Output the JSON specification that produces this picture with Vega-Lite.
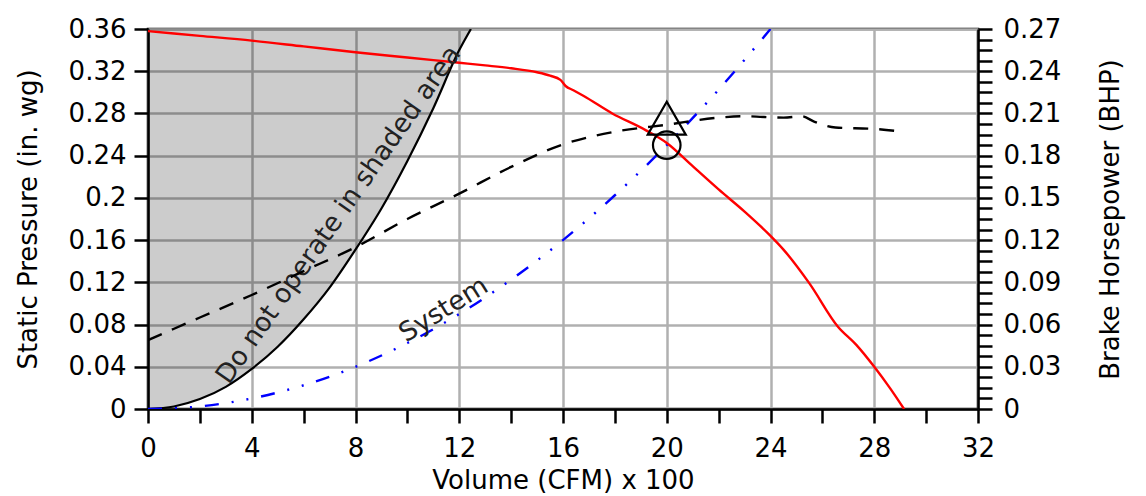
{
  "$schema": "https://vega.github.io/schema/vega-lite/v6.json",
  "width": 830,
  "height": 380,
  "autosize": {"type": "none"},
  "padding": {"left": 148, "top": 29, "right": 168, "bottom": 87},
  "background": "white",
  "config": {
    "font": "DejaVu Sans",
    "view": {"stroke": "black", "strokeWidth": 2.5},
    "axis": {
      "domainColor": "black", "domainWidth": 2.5,
      "tickColor": "black", "tickWidth": 2.5, "tickSize": 14,
      "labelColor": "black", "labelFontSize": 26, "labelPadding": 8,
      "labelOverlap": false, "labelFlush": false,
      "titleColor": "black", "titleFontSize": 26, "titleFontWeight": "normal",
      "gridColor": "#b0b0b0", "gridWidth": 2.5
    }
  },
  "datasets": {
    "fan": [
      {"cfm": 0, "p": 0.358}, {"cfm": 2, "p": 0.3535}, {"cfm": 4, "p": 0.349}, {"cfm": 6, "p": 0.3435},
      {"cfm": 8, "p": 0.338}, {"cfm": 10, "p": 0.333}, {"cfm": 12, "p": 0.328}, {"cfm": 13, "p": 0.3255},
      {"cfm": 14, "p": 0.3228}, {"cfm": 15, "p": 0.319}, {"cfm": 15.5, "p": 0.3158}, {"cfm": 15.9, "p": 0.3118},
      {"cfm": 16.1, "p": 0.306}, {"cfm": 16.4, "p": 0.302}, {"cfm": 16.8, "p": 0.2965}, {"cfm": 17.9, "p": 0.280},
      {"cfm": 19.2, "p": 0.264}, {"cfm": 20, "p": 0.252}, {"cfm": 21, "p": 0.230}, {"cfm": 22, "p": 0.208},
      {"cfm": 23, "p": 0.187}, {"cfm": 24, "p": 0.164}, {"cfm": 24.5, "p": 0.151}, {"cfm": 25.5, "p": 0.119},
      {"cfm": 26.6, "p": 0.078}, {"cfm": 27.3, "p": 0.061}, {"cfm": 28, "p": 0.040}, {"cfm": 28.6, "p": 0.020},
      {"cfm": 29.15, "p": 0}
    ],
    "system": [
      {"cfm": 0, "p": 0}, {"cfm": 2, "p": 0.0025}, {"cfm": 4, "p": 0.01}, {"cfm": 6, "p": 0.0225},
      {"cfm": 8, "p": 0.04}, {"cfm": 10, "p": 0.0625}, {"cfm": 12, "p": 0.09}, {"cfm": 14, "p": 0.1225},
      {"cfm": 16, "p": 0.16}, {"cfm": 18, "p": 0.2025}, {"cfm": 20, "p": 0.25}, {"cfm": 22, "p": 0.3025},
      {"cfm": 24, "p": 0.36}
    ],
    "limit": [
      {"cfm": 0, "p": 0}, {"cfm": 1, "p": 0.0024}, {"cfm": 2, "p": 0.0094}, {"cfm": 3, "p": 0.021},
      {"cfm": 4, "p": 0.038}, {"cfm": 5, "p": 0.059}, {"cfm": 6, "p": 0.085}, {"cfm": 7, "p": 0.115},
      {"cfm": 8, "p": 0.151}, {"cfm": 9, "p": 0.19}, {"cfm": 10, "p": 0.235}, {"cfm": 11, "p": 0.285},
      {"cfm": 12, "p": 0.34}, {"cfm": 12.45, "p": 0.36}
    ],
    "bhp": [
      {"cfm": 0, "bhp": 0.049}, {"cfm": 2, "bhp": 0.065}, {"cfm": 4, "bhp": 0.081}, {"cfm": 6, "bhp": 0.098},
      {"cfm": 8, "bhp": 0.115}, {"cfm": 10, "bhp": 0.135}, {"cfm": 12, "bhp": 0.153}, {"cfm": 14, "bhp": 0.172},
      {"cfm": 16, "bhp": 0.188}, {"cfm": 18, "bhp": 0.197}, {"cfm": 20, "bhp": 0.202}, {"cfm": 22, "bhp": 0.207},
      {"cfm": 23, "bhp": 0.208}, {"cfm": 24.5, "bhp": 0.207}, {"cfm": 25.2, "bhp": 0.208}, {"cfm": 25.7, "bhp": 0.204},
      {"cfm": 26.5, "bhp": 0.200}, {"cfm": 28, "bhp": 0.199}, {"cfm": 29.1, "bhp": 0.197}
    ],
    "markers": [
      {"cfm": 20, "p": 0.25, "kind": "circle"},
      {"cfm": 20, "p": 0.2755, "kind": "triangle-up"}
    ],
    "labels": [
      {"cfm": 7.35, "p": 0.184, "text": "Do not operate in shaded area", "angle": -55},
      {"cfm": 11.4, "p": 0.094, "text": "System", "angle": -32}
    ]
  },
  "layer": [
    {
      "layer": [
        {
          "data": {"name": "limit"},
          "mark": {"type": "area", "color": "black", "fillOpacity": 0.2, "interpolate": "monotone", "clip": true},
          "encoding": {
            "x": {"field": "cfm", "type": "quantitative", "scale": {"domain": [0, 32], "nice": false},
              "axis": {
                "title": "Volume (CFM) x 100",
                "values": [0,1,2,3,4,5,6,7,8,9,10,11,12,13,14,15,16,17,18,19,20,21,22,23,24,25,26,27,28,29,30,31,32],
                "labelExpr": "datum.value % 4 === 0 ? datum.label : ''",
                "grid": true,
                "gridOpacity": {"condition": {"test": "datum.value % 4 === 0", "value": 1}, "value": 0},
                "labelPadding": 12,
                "titlePadding": 6
              }},
            "y": {"field": "p", "type": "quantitative", "scale": {"domain": [0, 0.36], "nice": false},
              "axis": {
                "title": "Static Pressure (in. wg)",
                "values": [0,0.01,0.02,0.03,0.04,0.05,0.06,0.07,0.08,0.09,0.1,0.11,0.12,0.13,0.14,0.15,0.16,0.17,0.18,0.19,0.2,0.21,0.22,0.23,0.24,0.25,0.26,0.27,0.28,0.29,0.3,0.31,0.32,0.33,0.34,0.35,0.36],
                "labelExpr": "round(datum.value * 100) % 4 === 0 ? format(datum.value, '~g') : ''",
                "grid": true,
                "gridOpacity": {"condition": {"test": "round(datum.value * 100) % 4 === 0", "value": 1}, "value": 0},
                "titlePadding": 27
              }},
            "y2": {"datum": 0.36}
          }
        },
        {
          "data": {"name": "limit"},
          "mark": {"type": "line", "color": "black", "strokeWidth": 2.2, "interpolate": "monotone", "clip": true},
          "encoding": {"x": {"field": "cfm", "type": "quantitative"}, "y": {"field": "p", "type": "quantitative"}}
        },
        {
          "data": {"name": "system"},
          "mark": {"type": "line", "color": "blue", "strokeWidth": 2.4, "strokeDash": [14, 13, 2, 13, 2, 13], "interpolate": "monotone", "clip": true},
          "encoding": {"x": {"field": "cfm", "type": "quantitative"}, "y": {"field": "p", "type": "quantitative"}}
        },
        {
          "data": {"name": "fan"},
          "mark": {"type": "line", "color": "red", "strokeWidth": 2.4, "interpolate": "monotone", "clip": true},
          "encoding": {"x": {"field": "cfm", "type": "quantitative"}, "y": {"field": "p", "type": "quantitative"}}
        },
        {
          "data": {"name": "markers"},
          "mark": {"type": "point", "filled": false, "color": "black", "strokeWidth": 2.2, "opacity": 1},
          "encoding": {
            "x": {"field": "cfm", "type": "quantitative"},
            "y": {"field": "p", "type": "quantitative"},
            "shape": {"field": "kind", "type": "nominal", "scale": null},
            "size": {"condition": {"test": "datum.kind === 'circle'", "value": 760}, "value": 1450}
          }
        },
        {
          "data": {"name": "labels"},
          "mark": {"type": "text", "fontSize": 26.5, "color": "#222222", "align": "center", "baseline": "middle"},
          "encoding": {
            "x": {"field": "cfm", "type": "quantitative"},
            "y": {"field": "p", "type": "quantitative"},
            "text": {"field": "text"},
            "angle": {"field": "angle", "type": "quantitative", "scale": null}
          }
        }
      ]
    },
    {
      "data": {"name": "bhp"},
      "mark": {"type": "line", "color": "black", "strokeWidth": 2.4, "strokeDash": [15, 11], "interpolate": "monotone", "clip": true},
      "encoding": {
        "x": {"field": "cfm", "type": "quantitative"},
        "y": {"field": "bhp", "type": "quantitative", "scale": {"domain": [0, 0.27], "nice": false},
          "axis": {
            "orient": "right",
            "title": "Brake Horsepower (BHP)",
            "titleAngle": -90,
            "values": [0,0.0075,0.015,0.0225,0.03,0.0375,0.045,0.0525,0.06,0.0675,0.075,0.0825,0.09,0.0975,0.105,0.1125,0.12,0.1275,0.135,0.1425,0.15,0.1575,0.165,0.1725,0.18,0.1875,0.195,0.2025,0.21,0.2175,0.225,0.2325,0.24,0.2475,0.255,0.2625,0.27],
            "labelExpr": "round(datum.value * 10000) % 300 === 0 ? format(datum.value, '~g') : ''",
            "grid": false,
            "labelPadding": 11,
            "titlePadding": 63
          }}
      }
    }
  ],
  "resolve": {"scale": {"y": "independent"}}
}
